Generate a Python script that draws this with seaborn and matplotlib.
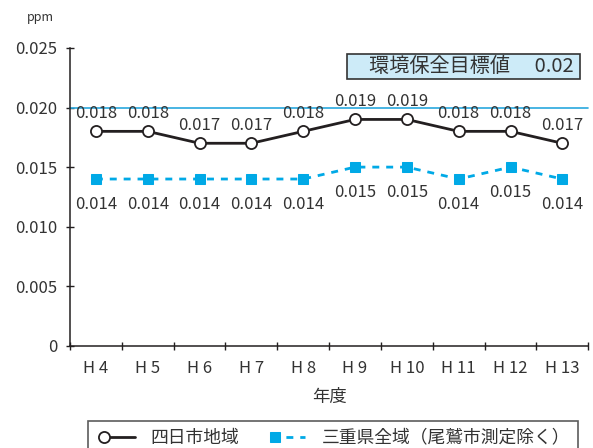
import matplotlib
matplotlib.use("Agg")
import matplotlib.pyplot as plt
import numpy as np
import pandas as pd
import seaborn as sns
from matplotlib.legend_handler import HandlerLine2DCompound

years = ["H 4", "H 5", "H 6", "H 7", "H 8", "H 9", "H 10", "H 11", "H 12", "H 13"]
yokkaichi = [0.018, 0.018, 0.017, 0.017, 0.018, 0.019, 0.019, 0.018, 0.018, 0.017]
mie_all = [0.014, 0.014, 0.014, 0.014, 0.014, 0.015, 0.015, 0.014, 0.015, 0.014]
target_value = 0.02
series_names = ["四日市地域", "三重県全域（尾鷲市測定除く）"]
y_ticks = [0, 0.005, 0.010, 0.015, 0.020, 0.025]
y_tick_labels = ["0", "0.005", "0.010", "0.015", "0.020", "0.025"]

BLACK = "#231f20"
BLUE = "#00a9e6"


class _MarkerFirst(HandlerLine2DCompound):
    # put the marker at the left end of the legend line
    def get_xdata(self, legend, xdescent, ydescent, width, height, fontsize):
        xdata = np.array([-xdescent + 4, -xdescent + width])
        return xdata, xdata[:1] + 2


sns.set_theme(style="white")
plt.rcParams["font.family"] = ["Noto Sans CJK JP", "DejaVu Sans"]

df = pd.DataFrame({"year": years, "a": yokkaichi, "b": mie_all})

fig = plt.figure(figsize=(5.93, 4.48), dpi=100)
ax = fig.add_axes([0.118, 0.228, 0.874, 0.665])

sns.lineplot(data=df, x="year", y="a", ax=ax, color=BLACK, lw=2, marker="o",
             markersize=8, markerfacecolor="white", markeredgecolor=BLACK,
             markeredgewidth=1.3, label=series_names[0], sort=False)
sns.lineplot(data=df, x="year", y="b", ax=ax, color=BLUE, lw=2, marker="s",
             markersize=7.5, markerfacecolor=BLUE, markeredgecolor=BLUE,
             linestyle="--", label=series_names[1], sort=False)
ax.lines[1].set_dashes((2.5, 2.5))

ax.axhline(target_value, color="#29a8de", lw=1.2, clip_on=False, zorder=1)

for i, v in enumerate(yokkaichi):
    ax.annotate(f"{v:.3f}", (i, v), xytext=(0, 13), textcoords="offset points",
                ha="center", va="center", fontsize=12, color="#333333")
for i, v in enumerate(mie_all):
    ax.annotate(f"{v:.3f}", (i, v), xytext=(0, -18), textcoords="offset points",
                ha="center", va="center", fontsize=12, color="#333333")

ax.text(0.98, 0.937, "　環境保全目標値　 0.02 ", transform=ax.transAxes, ha="right",
        va="center", fontsize=14.5, color="#333333",
        bbox=dict(boxstyle="square,pad=0.1", fc="#cdebf8", ec="#333333", lw=1.2))

ax.set_xlim(-0.5, len(years) - 0.5)
ax.set_ylim(0, 0.025)
ax.set_yticks(y_ticks)
ax.set_yticklabels(y_tick_labels)
ax.set_xticks(np.arange(-0.5, len(years) + 0.5, 1), minor=False)
ax.set_xticklabels([])
ax.set_xticks(np.arange(len(years)), minor=True)
ax.set_xticklabels(years, minor=True)
ax.tick_params(axis="x", which="major", bottom=True, direction="inout", length=6,
               width=1, color=BLACK)
ax.tick_params(axis="x", which="minor", bottom=False, length=0, pad=10,
               labelsize=12, labelcolor="#333333")
ax.tick_params(axis="y", left=True, direction="inout", length=6, width=1, color=BLACK,
               labelsize=12, labelcolor="#333333", pad=6)

for side in ["top", "right"]:
    ax.spines[side].set_visible(False)
for side in ["left", "bottom"]:
    ax.spines[side].set_color(BLACK)
    ax.spines[side].set_linewidth(1.1)

ax.set_xlabel("年度", fontsize=12.5, color="#333333", labelpad=8)
ax.set_ylabel("")
fig.text(0.068, 0.962, "ppm", fontsize=9, color="#333333", ha="center", va="center")

ax.get_legend().remove()
handles = ax.lines[:2]
leg = fig.legend(handles, series_names, loc="lower left", bbox_to_anchor=(0.133, -0.035),
                 ncol=2, fontsize=12.8, frameon=True, fancybox=False,
                 edgecolor="#333333", handlelength=2.2, handletextpad=0.9,
                 columnspacing=1.5, borderpad=0.45,
                 handler_map={h: _MarkerFirst() for h in handles})
leg.get_frame().set_linewidth(1.2)
for t in leg.get_texts():
    t.set_color("#333333")

fig.savefig("out.png", dpi=100)
